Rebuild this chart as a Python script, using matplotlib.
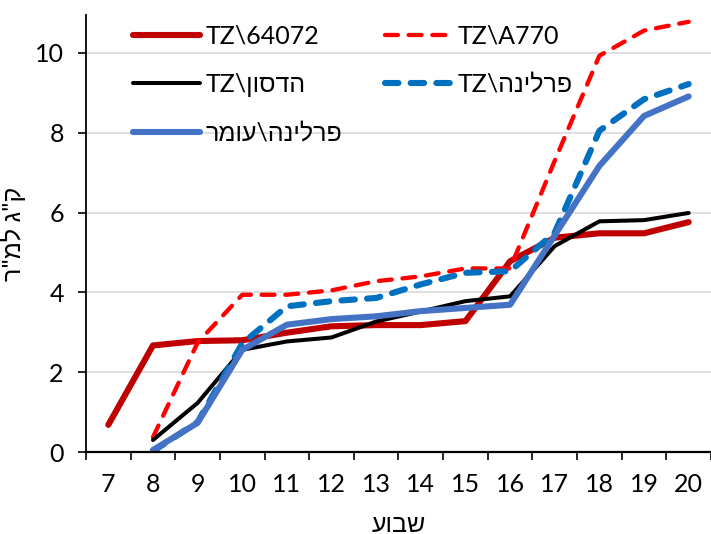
import numpy as np
import matplotlib
matplotlib.use("Agg")
import matplotlib.pyplot as plt

# matplotlib has no bidi support, so Hebrew runs are flipped to visual order by hand
def rtl(s):
    return s[::-1]

plt.rcParams['font.family'] = ['Lato', 'Liberation Sans', 'DejaVu Sans']

weeks = np.arange(7, 21)
tz_64072 = [0.68, 2.67, 2.78, 2.80, 2.99, 3.15, 3.18, 3.18, 3.28, 4.78, 5.37, 5.48, 5.48, 5.76]
tz_a770 = [np.nan, 0.37, 2.74, 3.94, 3.94, 4.05, 4.28, 4.40, 4.60, 4.60, 7.30, 9.93, 10.56, 10.78]
tz_hudson = [np.nan, 0.30, 1.23, 2.56, 2.77, 2.87, 3.27, 3.52, 3.78, 3.90, 5.16, 5.78, 5.81, 5.99]
tz_perlina = [np.nan, 0.02, 0.75, 2.72, 3.65, 3.78, 3.86, 4.20, 4.49, 4.53, 5.50, 8.05, 8.84, 9.22]
perlina_omer = [np.nan, 0.05, 0.73, 2.56, 3.19, 3.33, 3.40, 3.53, 3.61, 3.69, 5.43, 7.17, 8.42, 8.91]

lbl_64072 = "TZ\\64072"
lbl_a770 = "TZ\\A770"
lbl_hudson = "TZ\\" + rtl("הדסון")
lbl_perlina = "TZ\\" + rtl("פרלינה")
lbl_omer = rtl("פרלינה\\עומר")

fs = 18

fig = plt.figure(figsize=(7.11, 5.34), dpi=100)
ax = fig.add_axes([86/711, 82/534, 625/711, 437/534])

kw = dict(solid_capstyle='round', dash_capstyle='round')
l1, = ax.plot(weeks, tz_64072, color='#C00000', lw=4.4, label=lbl_64072, **kw)
l2, = ax.plot(weeks, tz_a770, color='#FF0000', lw=3.1, ls=(0, (3.0, 2.5)), label=lbl_a770, **kw)
l3, = ax.plot(weeks, tz_hudson, color='black', lw=2.9, label=lbl_hudson, **kw)
l4, = ax.plot(weeks, tz_perlina, color='#0070C0', lw=4.4, ls=(0, (2.2, 2.0)), label=lbl_perlina, **kw)
l5, = ax.plot(weeks, perlina_omer, color='#4472C4', lw=4.4, label=lbl_omer, **kw)

ax.set_xlim(6.5, 20.5)
ax.set_ylim(0, 10.95)
ax.set_yticks(np.arange(0, 11, 2))
ax.set_xticks(weeks)
ax.set_xticks(np.arange(6.5, 21, 1), minor=True)
ax.tick_params(axis='x', which='major', length=0, pad=15, labelsize=fs)
ax.tick_params(axis='x', which='minor', length=6, width=1.2, direction='out')
ax.tick_params(axis='y', length=6, width=1.2, direction='out', labelsize=fs, pad=10)

ax.grid(axis='y', color='#D9D9D9', lw=1.2)
ax.set_axisbelow(True)
for side in ['top', 'right']:
    ax.spines[side].set_visible(False)
ax.spines['left'].set_linewidth(1.3)
ax.spines['bottom'].set_linewidth(1.6)

ax.set_xlabel(rtl("שבוע"), fontsize=fs, labelpad=12)
ax.set_ylabel(rtl('ק"ג למ"ר'), fontsize=fs, labelpad=6)

ax.legend([l1, l3, l5, l2, l4], [lbl_64072, lbl_hudson, lbl_omer, lbl_a770, lbl_perlina],
          ncol=2, loc='upper left', bbox_to_anchor=(0.075, 0.978), frameon=False,
          fontsize=fs, handlelength=2.7, handletextpad=0.2, labelspacing=1.0,
          columnspacing=1.7, borderpad=0, borderaxespad=0)

fig.savefig("out.png", dpi=100)
